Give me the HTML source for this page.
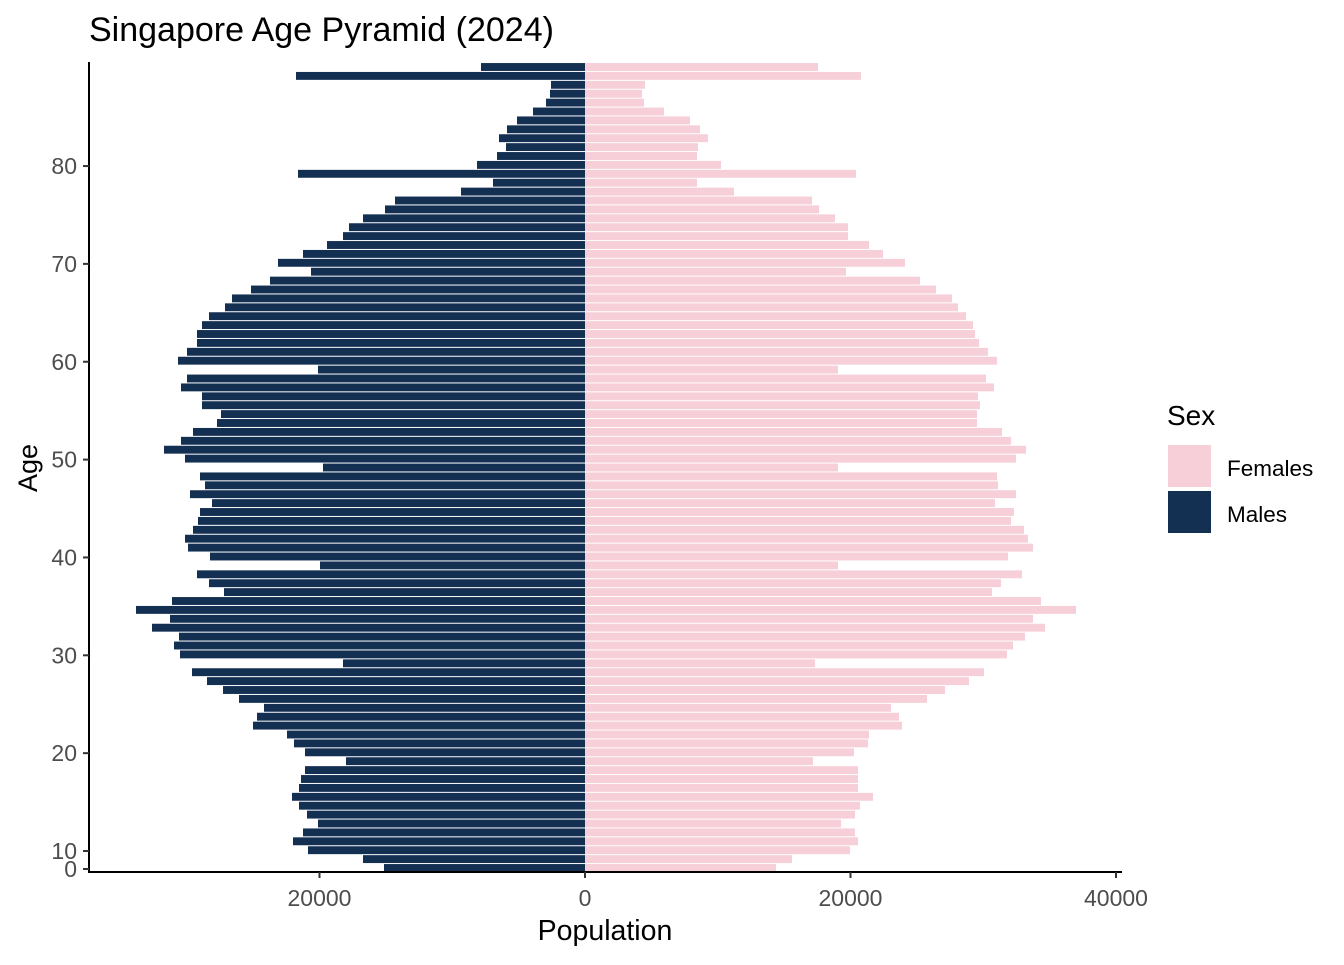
<!DOCTYPE html>
<html><head><meta charset="utf-8"><style>
body{margin:0;background:#fff;}
svg text{font-family:"Liberation Sans",Arial,sans-serif;}
</style></head><body>
<svg id="chart" width="1344" height="960" xmlns="http://www.w3.org/2000/svg">
<text x="89" y="41" font-size="34" fill="#000">Singapore Age Pyramid (2024)</text>
<g id="bars"></g>
<g id="axes"></g>
<text x="605" y="940" font-size="28.5" text-anchor="middle" fill="#000">Population</text>
<text x="0" y="0" font-size="27" text-anchor="middle" fill="#000" transform="translate(37,468) rotate(-90)">Age</text>
<g>
<text x="1167" y="425" font-size="28" fill="#000">Sex</text>
<rect x="1168" y="445" width="43" height="42" fill="#f6cfd9"/>
<text x="1227" y="476" font-size="22.5" fill="#000">Females</text>
<rect x="1168" y="491" width="43" height="42" fill="#132f52"/>
<text x="1227" y="522" font-size="22.5" fill="#000">Males</text>
</g>
</svg>
<script>
const males = [15141,16723,20866,21996,21243,20113,20942,21544,22072,21544,21394,21092,18004,21092,21921,22448,25009,24708,24181,26064,27269,28475,29605,18230,30508,30960,30584,32618,31262,33823,31111,27194,28324,29228,19962,28249,29906,30132,29529,29153,29002,28098,29755,28625,29002,19736,30132,31714,30433,29529,27721,27420,28851,28851,30433,29981,20113,30659,29981,29228,29228,28851,28324,27119,26591,25160,23729,20640,23126,21243,19435,18230,17778,16723,15066,14313,9341,6930,21620,8136,6629,5951,6478,5876,5122,3917,2938,2637,2561,21770,7834];
const females = [14388,15593,19962,20565,20339,19284,20339,20716,21695,20565,20565,20565,17175,20264,21318,21394,23880,23654,23051,25763,27119,28927,30056,17326,31789,32241,33145,34652,33748,36987,34350,30659,31337,32919,19058,31864,33748,33371,33070,32090,32316,30885,32467,31111,31036,19058,32467,33220,32090,31412,29529,29529,29755,29604,30810,30207,19058,31036,30358,29680,29379,29228,28701,28098,27646,26441,25235,19661,24105,22448,21394,19812,19812,18832,17627,17100,11224,8437,20414,10245,8437,8512,9266,8663,7910,5951,4444,4294,4520,20791,17552];
const xTicks = [-20000,0,20000,40000];
const xTickLabels = ["20000","0","20000","40000"];
const yTicks = [0,10,20,30,40,50,60,70,80];

const NS="http://www.w3.org/2000/svg";
const X0=585, K=265.5/20000;
function x(v){return X0+v*K;}
const pitch=8.9, barH=7.9, yBottom=868;
function yBar(i){return yBottom-i*pitch;}
function yTick(a){return a===0?869:851-(a-10)*9.785;}
function mk(tag,attrs,parent){const e=document.createElementNS(NS,tag);for(const k in attrs)e.setAttribute(k,attrs[k]);parent.appendChild(e);return e;}
const bars=document.getElementById('bars'), axes=document.getElementById('axes');
for(let i=0;i<males.length;i++){
  const yc=yBar(i);
  const m=mk('rect',{x:x(-males[i]),y:yc-barH/2,width:x(0)-x(-males[i]),height:barH,fill:'#132f52'},bars);
  
  
  const f=mk('rect',{x:x(0),y:yc-barH/2,width:x(females[i])-x(0),height:barH,fill:'#f6cfd9'},bars);
  
  
}
const ya=mk('line',{x1:89,y1:62,x2:89,y2:873,stroke:'#000','stroke-width':2},axes);


const xa=mk('line',{x1:88,y1:872,x2:1122,y2:872,stroke:'#000','stroke-width':2},axes);


xTicks.forEach((v,i)=>{
  const t=mk('line',{x1:x(v),y1:872,x2:x(v),y2:878,stroke:'#333','stroke-width':2},axes);
  
  
  const l=mk('text',{x:x(v),y:906,'font-size':23,'text-anchor':'middle',fill:'#4d4d4d'},axes);
  l.textContent=xTickLabels[i];
  
  
});
yTicks.forEach(a=>{
  const yy=yTick(a);
  const t=mk('line',{x1:83,y1:yy,x2:89,y2:yy,stroke:'#333','stroke-width':2},axes);
  
  
  const l=mk('text',{x:77,y:yy+8,'font-size':23,'text-anchor':'end',fill:'#4d4d4d'},axes);
  l.textContent=String(a);
  
  
});
</script>
</body></html>
